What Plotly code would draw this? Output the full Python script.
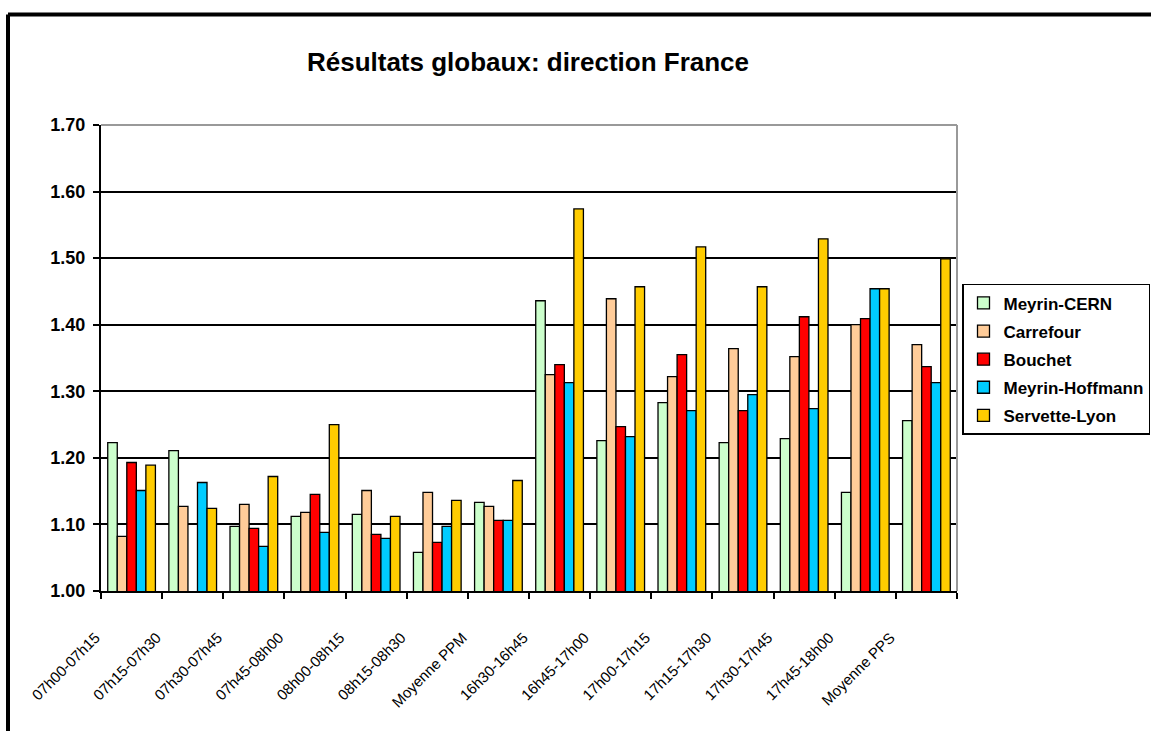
import plotly.graph_objects as go

categories = ["07h00-07h15", "07h15-07h30", "07h30-07h45", "07h45-08h00", "08h00-08h15",
              "08h15-08h30", "Moyenne PPM", "16h30-16h45", "16h45-17h00", "17h00-17h15",
              "17h15-17h30", "17h30-17h45", "17h45-18h00", "Moyenne PPS"]

meyrin_cern = [1.223, 1.211, 1.097, 1.112, 1.115, 1.058, 1.133, 1.436, 1.226, 1.283, 1.223, 1.229, 1.148, 1.256]
carrefour = [1.082, 1.127, 1.130, 1.118, 1.151, 1.148, 1.127, 1.325, 1.439, 1.322, 1.364, 1.352, 1.400, 1.370]
bouchet = [1.193, None, 1.094, 1.145, 1.085, 1.073, 1.106, 1.340, 1.247, 1.355, 1.271, 1.412, 1.409, 1.337]
meyrin_hoffmann = [1.151, 1.163, 1.067, 1.088, 1.079, 1.097, 1.106, 1.313, 1.232, 1.271, 1.295, 1.274, 1.454, 1.313]
servette_lyon = [1.189, 1.124, 1.172, 1.250, 1.112, 1.136, 1.166, 1.574, 1.457, 1.517, 1.457, 1.529, 1.454, 1.499]

series = [
    ("Meyrin-CERN", meyrin_cern, "#CCFFCC"),
    ("Carrefour", carrefour, "#FFCC99"),
    ("Bouchet", bouchet, "#FF0000"),
    ("Meyrin-Hoffmann", meyrin_hoffmann, "#00CCFF"),
    ("Servette-Lyon", servette_lyon, "#FFCC00"),
]

fig = go.Figure()
for i, (name, vals, col) in enumerate(series):
    fig.add_trace(go.Bar(x=categories, y=vals, name=name, legendgroup=str(i),
                         marker=dict(color=col, line=dict(color="black", width=1.3))))

# plot area spans 101..957 px; paper spans 101..1151 px
xd = 856 / 1050

fig.update_layout(
    width=1151, height=731,
    margin=dict(l=101, r=0, t=125, b=140, autoexpand=False),
    paper_bgcolor="white", plot_bgcolor="white",
    font=dict(family="Liberation Sans, Arial", color="black"),
    title=dict(text="<b>Résultats globaux: direction France</b>", x=(528 - 101) / 1050,
               xanchor="center", xref="paper",
               y=1 - 62 / 731, yanchor="middle", font=dict(size=26)),
    barmode="group", bargap=0.22, bargroupgap=0,
    showlegend=True,
    legend=dict(x=(962 - 101) / 1050, y=0.659, xanchor="left", yanchor="top",
                bordercolor="black", borderwidth=1.5, bgcolor="white",
                font=dict(size=17, weight="bold"), tracegroupgap=3, traceorder="grouped"),
    xaxis=dict(type="category", domain=[0, xd], showline=True, linecolor="black", linewidth=2,
               ticks="outside", tickson="boundaries", ticklen=6, tickwidth=2, tickcolor="black",
               tickangle=-45, tickfont=dict(size=15), showgrid=False,
               ticklabelshift=-36, ticklabelstandoff=30),
    yaxis=dict(range=[1.0, 1.7], dtick=0.1, tickformat=".2f", showline=True, linecolor="black",
               linewidth=2, ticks="outside", ticklen=6, tickwidth=2, tickcolor="black",
               showgrid=True, gridcolor="black", gridwidth=1.5, zeroline=False,
               tickfont=dict(size=18, weight="bold"), ticklabelstandoff=4),
)

# grey plot frame at top and right
fig.add_shape(type="line", xref="paper", yref="paper", x0=0, x1=xd, y0=1, y1=1,
              line=dict(color="#999999", width=2))
fig.add_shape(type="line", xref="paper", yref="paper", x0=xd, x1=xd, y0=0, y1=1,
              line=dict(color="#999999", width=2))
# outer chart border (top and left)
fx = (8 - 101) / 1050
fy = (591 - 14.5) / 466
fig.add_shape(type="line", xref="paper", yref="paper", x0=fx, x1=1.1, y0=fy, y1=fy,
              line=dict(color="black", width=4))
fig.add_shape(type="line", xref="paper", yref="paper", x0=fx, x1=fx, y0=-0.4, y1=fy,
              line=dict(color="black", width=4))

fig.write_html("out.html", config={"displayModeBar": False},
               post_script="document.body.style.margin='0px';")
